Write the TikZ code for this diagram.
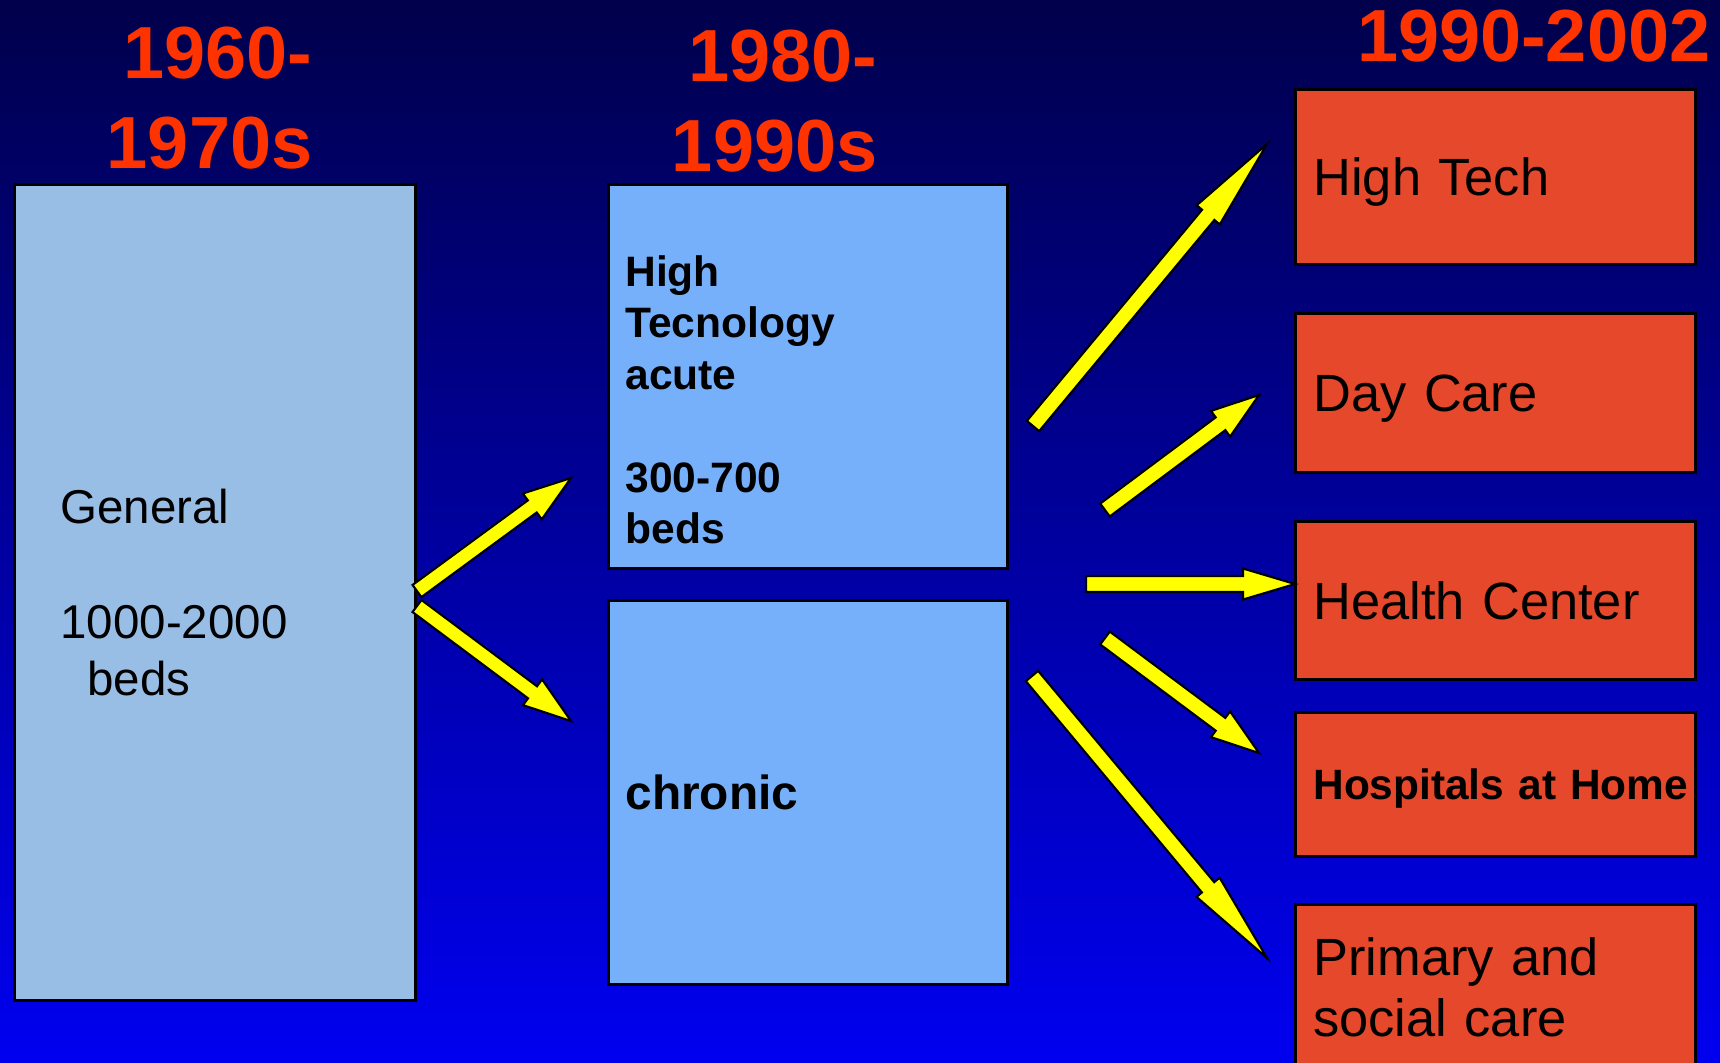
\documentclass[tikz,border=0pt]{standalone}
\usepackage{fontspec}
\setmainfont{Liberation Sans}
\usepackage{xcolor}
\usepackage{tikz}
\usetikzlibrary{calc}

\definecolor{bgtop}{RGB}{0,0,75}
\definecolor{bgbottom}{RGB}{0,0,240}
\definecolor{yeartext}{RGB}{255,51,0}
\definecolor{oldbox}{RGB}{153,190,230}
\definecolor{midbox}{RGB}{119,176,250}
\definecolor{newbox}{RGB}{229,72,42}
\definecolor{arrowfill}{RGB}{255,255,0}

% fat arrow: from, to, half shaft, half head, head length
\newcommand{\blockarrow}[5]{%
  \path ($(#2)!#5!(#1)$) coordinate (hb);
  \filldraw[arrowbody] ($(#1)!#3!90:(#2)$) -- ($(hb)!#3!-90:(#1)$) -- ($(hb)!#4!-90:(#1)$) -- (#2)
    -- ($(hb)!#4!90:(#1)$) -- ($(hb)!#3!90:(#1)$) -- ($(#1)!#3!-90:(#2)$) -- cycle;
}

\begin{document}
\begin{tikzpicture}[x=0.01cm, y=-0.01cm,
    year/.style={text=yeartext, font=\fontsize{21}{25.6}\selectfont\bfseries, align=right, inner sep=0pt, anchor=south east},
    box/.style={draw=black, line width=0.8pt, anchor=north west, align=left, inner ysep=0pt},
    newstage/.style={box, fill=newbox, minimum width=4cm, text width=3.64cm, inner xsep=0.18cm, font=\fontsize{14.9}{17.4}\selectfont},
    arrowbody/.style={fill=arrowfill, draw=black, line width=0.6pt, line join=miter}]
\useasboundingbox (0,0) rectangle (1720,1062);
\shade[top color=bgtop, bottom color=bgbottom] (0,0) rectangle (1720,1062);

% periods
\node[year] (y60) at (313,170) {1960-\\1970s};
\node[year] (y80) at (878,173) {1980-\\1990s};
\node[year] (y90) at (1711,63) {1990-2002};

% old hospital
\node[box, fill=oldbox, minimum width=4.01cm, minimum height=8.16cm, text width=3.09cm, inner xsep=0.46cm,
      font=\fontsize{13.5}{16.2}\selectfont] (general) at (13,183)
      {General\\[0.58cm]1000-2000\\\hspace*{0.27cm}beds};

% split
\node[box, fill=midbox, minimum width=3.99cm, minimum height=3.84cm, text width=3.65cm, inner xsep=0.17cm,
      font=\fontsize{12.1}{14.65}\selectfont\bfseries] (acute) at (607,183)
      {\rule{0pt}{0.77cm}High\\Tecnology\\acute\\[0.515cm]300-700\\beds};
\node[box, fill=midbox, minimum width=3.99cm, minimum height=3.84cm, text width=3.65cm, inner xsep=0.17cm,
      font=\fontsize{13.6}{16}\selectfont\bfseries] (chronic) at (607,599) {chronic};

% new services
\foreach \name/\ytop/\hgt/\txt in {hightech/88/1.75/High Tech, daycare/312/1.59/Day Care, healthcenter/520/1.58/Health Center}
  \node[newstage, text depth=0pt, minimum height=\hgt cm] (\name) at (1294,\ytop) {\txt};
\node[newstage, text depth=0pt, minimum height=1.44cm, font=\fontsize{12.06}{14}\selectfont\bfseries] (hospitalhome) at (1294,711) {\mbox{Hospitals at Home}};
\node[newstage, minimum height=1.66cm] (primarycare) at (1294,903) {Primary and\\social care};

% arrows
\coordinate (gen-up) at (417,591);   \coordinate (acute-in) at (571,478);
\coordinate (gen-down) at (417,606); \coordinate (chronic-in) at (571,721);
\blockarrow{gen-up}{acute-in}{0.075cm}{0.16cm}{0.48cm}
\blockarrow{gen-down}{chronic-in}{0.075cm}{0.16cm}{0.48cm}

\coordinate (ht-s) at (1033,426); \coordinate (ht-e) at (1267,144);
\coordinate (dc-s) at (1105,510); \coordinate (dc-e) at (1259,395);
\coordinate (hc-s) at (1086,584); \coordinate (hc-e) at (1295,584);
\coordinate (hh-s) at (1105,638); \coordinate (hh-e) at (1259,753);
\coordinate (pc-s) at (1032,676); \coordinate (pc-e) at (1267,958);
\blockarrow{ht-s}{ht-e}{0.08cm}{0.15cm}{0.92cm}
\blockarrow{dc-s}{dc-e}{0.08cm}{0.16cm}{0.48cm}
\blockarrow{hc-s}{hc-e}{0.08cm}{0.155cm}{0.52cm}
\blockarrow{hh-s}{hh-e}{0.08cm}{0.16cm}{0.48cm}
\blockarrow{pc-s}{pc-e}{0.08cm}{0.15cm}{0.92cm}
\end{tikzpicture}
\end{document}
